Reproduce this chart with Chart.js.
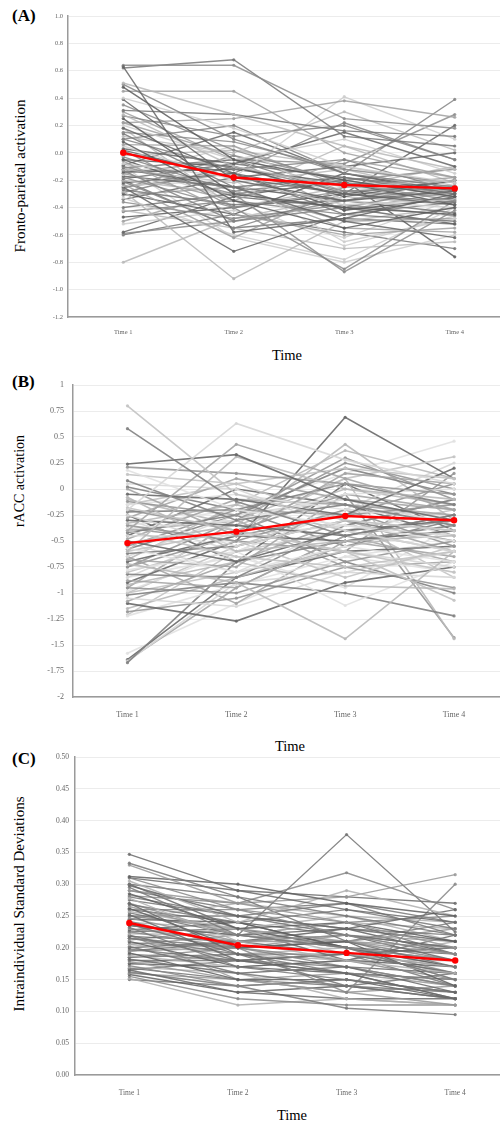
<!DOCTYPE html>
<html>
<head>
<meta charset="utf-8">
<script src="https://cdn.jsdelivr.net/npm/chart.js@4.4.1/dist/chart.umd.min.js"></script>
<style>
  body { margin: 0; width: 500px; height: 1127px; overflow: hidden; background: #fff; position: relative;
         font-family: "Liberation Serif", "DejaVu Serif", serif; color: #000; }
  canvas { position: absolute; left: 0; }
  .panel { position: absolute; font-weight: bold; font-size: 17px; }
  .ytitle { position: absolute; transform: translate(-50%, -50%) rotate(-90deg); white-space: nowrap; font-size: 15px; }
  .xtitle { position: absolute; transform: translate(-50%, -50%); font-size: 14.5px; }
</style>
</head>
<body>
<div class="panel" style="left:12px;top:6px">(A)</div>
<div class="ytitle" style="left:20px;top:176px">Fronto-parietal activation</div>
<div class="xtitle" style="left:287px;top:355px">Time</div>
<canvas id="chartA" width="520" height="340" style="top:0px"></canvas>

<div class="panel" style="left:12px;top:372px">(B)</div>
<div class="ytitle" style="left:20px;top:481px;font-size:14px">rACC activation</div>
<div class="xtitle" style="left:290px;top:746px">Time</div>
<canvas id="chartB" width="520" height="350" style="top:370px"></canvas>

<div class="panel" style="left:12px;top:749px">(C)</div>
<div class="ytitle" style="left:19px;top:904px">Intraindividual Standard Deviations</div>
<div class="xtitle" style="left:292px;top:1115px">Time</div>
<canvas id="chartC" width="520" height="360" style="top:745px"></canvas>

<script>
const timeLabels = ['Time 1', 'Time 2', 'Time 3', 'Time 4'];

// (A) fronto-parietal activation, one entry per participant
const fpT1 = [0.63, 0.64, 0.62, 0.51, 0.50, 0.48, 0.45, 0.40, 0.39, 0.35,
  0.31, 0.28, 0.27, 0.25, 0.22, 0.20, 0.18, 0.15, 0.14, 0.12,
  0.10, 0.08, 0.06, 0.05, 0.03, 0.02, 0.00, -0.02, -0.03, -0.05,
  -0.06, -0.08, -0.09, -0.10, -0.11, -0.12, -0.13, -0.14, -0.15, -0.16,
  -0.17, -0.18, -0.19, -0.20, -0.21, -0.22, -0.23, -0.24, -0.25, -0.26,
  -0.27, -0.28, -0.29, -0.30, -0.31, -0.33, -0.34, -0.36, -0.40, -0.42,
  -0.43, -0.47, -0.50, -0.52, -0.58, -0.59, -0.60, -0.80, 0.10, -0.05,
  0.30, -0.10, 0.02, -0.15, -0.20, 0.18, -0.25, -0.12, 0.22, -0.08];
const fpT2 = [-0.58, 0.64, 0.68, 0.28, 0.10, -0.05, 0.45, 0.18, -0.20, 0.02,
  0.28, -0.10, 0.12, -0.30, 0.25, -0.05, -0.15, 0.08, -0.25, 0.00,
  -0.12, -0.35, 0.05, -0.20, -0.08, -0.40, -0.15, 0.02, -0.28, -0.10,
  -0.45, -0.18, 0.15, -0.30, -0.05, -0.22, -0.50, -0.12, -0.35, 0.05,
  -0.25, -0.40, -0.08, -0.30, -0.55, -0.15, -0.62, -0.20, -0.72, -0.02,
  -0.38, -0.92, -0.10, -0.45, -0.25, -0.60, -0.18, -0.48, -0.30, -0.55,
  -0.35, -0.40, -0.28, -0.42, -0.32, -0.50, -0.45, -0.48, 0.20, -0.32,
  -0.05, -0.62, -0.18, -0.05, -0.55, -0.40, -0.15, -0.25, -0.02, -0.35];
const fpT3 = [-0.48, 0.25, 0.12, 0.05, -0.15, -0.20, 0.00, -0.10, -0.35, -0.22,
  0.16, -0.25, 0.20, -0.40, 0.38, 0.10, -0.30, -0.12, -0.18, 0.30,
  -0.05, -0.55, -0.25, -0.38, 0.15, -0.28, -0.45, -0.10, -0.20, -0.32,
  -0.60, 0.41, -0.15, -0.87, -0.30, -0.12, -0.40, -0.22, -0.05, -0.35,
  -0.50, -0.85, -0.18, 0.05, -0.30, -0.42, -0.25, -0.65, -0.45, -0.20,
  -0.35, -0.50, -0.28, -0.15, -0.55, -0.78, -0.10, -0.38, -0.22, -0.70,
  -0.45, -0.30, -0.50, -0.62, -0.40, -0.35, -0.58, -0.32, -0.15, -0.20,
  -0.42, -0.80, -0.30, -0.08, -0.48, -0.25, 0.22, -0.35, -0.28, -0.68];
const fpT4 = [-0.30, 0.18, 0.05, -0.12, -0.25, -0.32, -0.18, -0.22, -0.28, -0.35,
  0.12, -0.20, -0.05, -0.45, 0.26, -0.15, -0.38, -0.22, -0.30, 0.02,
  -0.28, -0.40, -0.18, -0.34, -0.10, -0.26, -0.50, -0.24, -0.32, -0.20,
  -0.55, 0.10, -0.28, -0.42, -0.36, -0.30, -0.25, -0.38, -0.18, -0.40,
  -0.62, -0.35, -0.27, -0.22, -0.30, -0.33, -0.28, -0.48, -0.32, -0.12,
  -0.44, -0.40, -0.24, -0.30, -0.58, -0.40, 0.00, -0.46, -0.26, -0.65,
  -0.36, -0.20, -0.48, -0.34, -0.52, -0.25, -0.70, -0.38, 0.39, -0.76,
  -0.28, -0.60, 0.20, 0.28, -0.52, -0.10, -0.05, -0.20, -0.32, -0.46];
const fpMean = [0.00, -0.18, -0.235, -0.26];

// (B) rACC activation
const raccT1 = [0.80, 0.58, -0.20, -0.40, 0.24, -0.60, 0.21, 0.18, 0.14, 0.08,
  0.05, 0.00, -0.05, -0.08, -0.12, -0.15, -0.18, -0.22, -0.25, -0.28,
  -0.30, -0.33, -0.35, -0.38, -0.40, -0.42, -0.45, -0.48, -0.50, -0.52,
  -0.55, -0.57, -0.60, -0.62, -0.65, -0.68, -0.70, -0.72, -0.75, -0.78,
  -0.80, -0.82, -0.85, -0.88, -0.90, -0.92, -0.95, -0.98, -1.00, -1.02,
  -1.05, -1.08, -1.10, -1.15, -1.18, -1.22, -1.21, -1.67, -1.66, -1.65,
  -1.64, -0.40, -0.20, -0.35, -0.15, -0.58, -0.30, -0.65, -0.45, -0.10,
  -0.75, -0.85, -1.00, 0.02, -0.52, -0.95, -0.25, -0.68, -0.38, -1.58];
const raccT2 = [-0.05, -0.12, 0.63, 0.43, 0.33, 0.31, 0.15, -0.20, 0.05, -0.30,
  0.00, -0.45, -0.10, -0.60, -0.25, -0.05, -0.40, -0.20, -0.55, 0.10,
  -0.35, -0.15, -0.50, -0.30, -0.65, -0.25, -0.45, -0.10, -0.70, -0.35,
  -0.20, -0.80, -0.40, -0.55, -0.25, -0.75, -0.45, -0.90, -0.30, -0.60,
  -0.50, -0.85, -0.40, -0.95, -0.50, -0.70, -1.00, -0.60, -0.80, -0.90,
  -1.13, -0.70, -1.27, -0.85, -1.05, -0.92, -0.60, -0.70, -0.90, -0.95,
  -0.85, -0.30, -0.40, -0.20, 0.05, -0.25, -0.60, -1.10, 0.00, -0.35,
  -0.45, -0.65, -0.55, -0.20, -0.80, -0.30, -0.70, -0.15, -0.50, -1.10];
const raccT3 = [-0.30, -0.45, 0.28, 0.10, -0.10, 0.00, 0.05, -0.35, 0.20, -0.15,
  -0.40, 0.15, -0.25, -0.50, 0.30, -0.20, -0.60, 0.05, -0.30, -0.10,
  -0.45, 0.37, -0.20, -0.05, -0.75, 0.20, -0.35, -0.15, -0.40, 0.43,
  -0.25, -0.55, 0.10, -0.30, -0.10, -0.05, -0.50, -1.44, 0.25, -0.20,
  -0.85, -0.35, -0.60, -0.45, 0.69, -0.93, -0.70, -1.12, -0.60, -1.00,
  -0.80, -0.30, -0.90, -0.55, -0.75, -0.65, -0.40, -0.50, -0.80, -0.45,
  -0.60, 0.10, -0.05, 0.15, -0.30, -0.70, -0.20, -0.50, -0.15, 0.00,
  -0.25, -0.95, -0.20, -0.55, -0.35, -0.75, 0.05, -0.40, -0.60, -0.65];
const raccT4 = [-0.40, -0.25, 0.05, -0.20, -0.30, -0.10, -0.05, -0.50, 0.10, -0.35,
  -0.60, 0.05, 0.20, -0.45, -0.10, -0.30, -0.80, -0.15, -0.40, -0.20,
  -0.25, 0.10, -0.55, 0.00, -0.60, -0.05, -0.45, -0.25, -0.30, -0.30,
  -0.15, -0.70, 0.31, -0.50, -0.35, -0.20, -0.40, -0.60, 0.00, -0.45,
  -0.55, -0.10, -0.75, -0.30, 0.10, -0.96, -0.50, -0.70, -1.07, -1.22,
  -0.85, -0.60, -0.75, -0.40, -0.95, -0.80, -0.20, -0.35, -0.60, -0.70,
  -0.55, -1.44, -1.43, 0.46, -0.85, -1.00, 0.25, -0.65, -0.45, -0.15,
  0.05, -0.35, -0.25, -0.30, -0.10, -0.70, -0.40, -0.60, 0.15, -0.50];
const raccMean = [-0.52, -0.41, -0.26, -0.30];

// (C) intraindividual standard deviations
const isdT1 = [0.347, 0.333, 0.330, 0.312, 0.310, 0.305, 0.300, 0.298, 0.295, 0.290,
  0.285, 0.282, 0.278, 0.275, 0.270, 0.268, 0.265, 0.262, 0.260, 0.257,
  0.255, 0.252, 0.250, 0.247, 0.245, 0.242, 0.240, 0.237, 0.235, 0.232,
  0.230, 0.228, 0.225, 0.222, 0.220, 0.218, 0.215, 0.212, 0.210, 0.208,
  0.205, 0.202, 0.200, 0.198, 0.195, 0.192, 0.190, 0.188, 0.185, 0.182,
  0.180, 0.178, 0.175, 0.172, 0.170, 0.168, 0.165, 0.162, 0.160, 0.158,
  0.155, 0.152, 0.150, 0.300, 0.280, 0.270, 0.260, 0.250, 0.245, 0.235,
  0.225, 0.215, 0.205, 0.195, 0.185, 0.175, 0.165, 0.310, 0.290, 0.220];
const isdT2 = [0.29, 0.28, 0.27, 0.30, 0.26, 0.24, 0.28, 0.25, 0.22, 0.27,
  0.23, 0.27, 0.21, 0.25, 0.19, 0.24, 0.22, 0.20, 0.26, 0.23,
  0.22, 0.18, 0.25, 0.21, 0.24, 0.20, 0.23, 0.19, 0.22, 0.17,
  0.21, 0.24, 0.20, 0.22, 0.18, 0.21, 0.19, 0.23, 0.17, 0.20,
  0.19, 0.16, 0.21, 0.18, 0.20, 0.15, 0.18, 0.17, 0.19, 0.16,
  0.18, 0.15, 0.17, 0.14, 0.16, 0.15, 0.13, 0.14, 0.15, 0.13,
  0.12, 0.11, 0.14, 0.23, 0.25, 0.22, 0.24, 0.23, 0.27, 0.22,
  0.23, 0.20, 0.22, 0.21, 0.20, 0.19, 0.18, 0.29, 0.26, 0.15];
const isdT3 = [0.26, 0.25, 0.24, 0.27, 0.22, 0.29, 0.21, 0.23, 0.20, 0.28,
  0.24, 0.318, 0.18, 0.22, 0.17, 0.26, 0.20, 0.21, 0.24, 0.19,
  0.378, 0.16, 0.27, 0.22, 0.20, 0.18, 0.25, 0.19, 0.23, 0.15,
  0.21, 0.20, 0.17, 0.24, 0.19, 0.22, 0.16, 0.21, 0.18, 0.13,
  0.20, 0.14, 0.19, 0.17, 0.22, 0.15, 0.16, 0.18, 0.14, 0.17,
  0.19, 0.13, 0.16, 0.15, 0.12, 0.14, 0.12, 0.105, 0.13, 0.14,
  0.11, 0.12, 0.15, 0.20, 0.23, 0.21, 0.22, 0.20, 0.25, 0.24,
  0.18, 0.21, 0.20, 0.23, 0.21, 0.18, 0.19, 0.28, 0.27, 0.16];
const isdT4 = [0.24, 0.22, 0.20, 0.25, 0.19, 0.25, 0.17, 0.26, 0.15, 0.315,
  0.21, 0.26, 0.16, 0.20, 0.13, 0.23, 0.18, 0.14, 0.25, 0.17,
  0.225, 0.12, 0.22, 0.19, 0.18, 0.15, 0.24, 0.16, 0.21, 0.13,
  0.20, 0.17, 0.14, 0.23, 0.16, 0.18, 0.12, 0.19, 0.17, 0.30,
  0.15, 0.13, 0.20, 0.14, 0.21, 0.12, 0.15, 0.18, 0.12, 0.16,
  0.14, 0.11, 0.15, 0.13, 0.11, 0.16, 0.12, 0.095, 0.14, 0.12,
  0.11, 0.11, 0.13, 0.19, 0.22, 0.23, 0.20, 0.16, 0.21, 0.19,
  0.22, 0.24, 0.17, 0.19, 0.18, 0.21, 0.17, 0.27, 0.24, 0.14];
const isdMean = [0.239, 0.204, 0.192, 0.180];

const FONT = '"Liberation Serif", "DejaVu Serif", serif';

function makePanel(id, cols, mean, cfg) {
  const datasets = [{
    data: mean,
    borderColor: '#ff0000',
    backgroundColor: '#ff0000',
    borderWidth: 2.4,
    pointRadius: 3.2,
    pointBorderWidth: 0
  }];
  for (let i = 0; i < cols[0].length; i++) {
    const c = cfg.shades[i % cfg.shades.length];
    datasets.push({
      data: cols.map(col => col[i]),
      borderColor: c,
      backgroundColor: c,
      borderWidth: cfg.lw,
      pointRadius: 1.6,
      pointBorderWidth: 0
    });
  }

  new Chart(document.getElementById(id), {
    type: 'line',
    data: { labels: timeLabels, datasets: datasets },
    options: {
      responsive: false,
      animation: false,
      devicePixelRatio: 1,
      layout: { padding: { top: cfg.top, right: cfg.right, left: 0, bottom: 0 } },
      plugins: { legend: { display: false }, tooltip: { enabled: false } },
      scales: {
        x: {
          offset: true,
          grid: { display: false },
          border: { display: true, color: '#9a9a9a', width: 1.5 },
          ticks: { color: '#666', font: { family: FONT, size: cfg.xFont }, padding: cfg.xPad, maxRotation: 0 },
          afterFit: s => { s.height = cfg.xh; }
        },
        y: {
          min: cfg.min,
          max: cfg.max,
          grid: { color: '#ececec', drawTicks: false },
          border: { color: '#9a9a9a', width: 1.5 },
          ticks: {
            stepSize: cfg.step,
            color: '#666',
            font: { family: FONT, size: cfg.yFont },
            padding: cfg.yPad,
            callback: cfg.fmt
          },
          afterFit: s => { s.width = cfg.left; }
        }
      }
    }
  });
}

makePanel('chartA', [fpT1, fpT2, fpT3, fpT4], fpMean, {
  min: -1.2, max: 1.0, step: 0.2, fmt: v => v.toFixed(1), lw: 1.4,
  top: 16, right: 10, left: 68, xh: 23, xFont: 6.5, xPad: 3, yFont: 6.5, yPad: 5,
  shades: ['rgba(100,100,100,0.85)', 'rgba(140,140,140,0.85)', 'rgba(118,118,118,0.85)', 'rgba(185,185,185,0.85)',
           'rgba(130,130,130,0.85)', 'rgba(90,90,90,0.85)', 'rgba(160,160,160,0.85)', 'rgba(205,205,205,0.85)']
});

makePanel('chartB', [raccT1, raccT2, raccT3, raccT4], raccMean, {
  min: -2, max: 1, step: 0.25, fmt: v => String(Number(v.toFixed(2))), lw: 1.6,
  top: 15, right: 11.5, left: 73, xh: 23, xFont: 8, xPad: 5, yFont: 8, yPad: 9,
  shades: ['rgba(195,195,195,0.9)', 'rgba(130,130,130,0.9)', 'rgba(215,215,215,0.9)', 'rgba(165,165,165,0.9)',
           'rgba(105,105,105,0.9)', 'rgba(185,185,185,0.9)', 'rgba(150,150,150,0.9)', 'rgba(225,225,225,0.9)']
});

makePanel('chartC', [isdT1, isdT2, isdT3, isdT4], isdMean, {
  min: 0, max: 0.5, step: 0.05, fmt: v => v.toFixed(2), lw: 1.4,
  top: 12, right: 10.5, left: 75, xh: 30, xFont: 7.5, xPad: 6, yFont: 7.5, yPad: 6,
  shades: ['rgba(105,105,105,0.85)', 'rgba(120,120,120,0.85)', 'rgba(150,150,150,0.85)', 'rgba(95,95,95,0.85)',
           'rgba(135,135,135,0.85)', 'rgba(175,175,175,0.85)', 'rgba(115,115,115,0.85)']
});
</script>
</body>
</html>
